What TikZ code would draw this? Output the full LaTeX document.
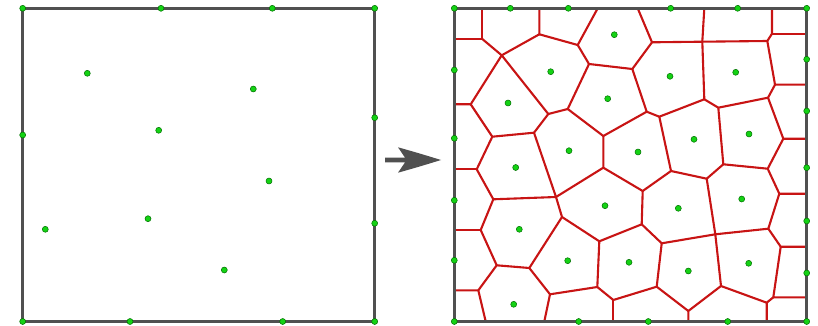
\documentclass[tikz,border=0pt]{standalone}
\begin{document}
\begin{tikzpicture}[x=1pt,y=-1pt,
  frame/.style={draw=framegray,line width=2.6pt,line join=miter},
  vor/.style={draw=vred,line width=2.1pt,line join=round,line cap=round},
  seed/.style={fill=seedgreen,draw=seeddark,line width=0.5pt},
  arrowshape/.style={fill=framegray,draw=none}]
\definecolor{framegray}{RGB}{80,80,80}
\definecolor{vred}{RGB}{200,20,20}
\definecolor{seedgreen}{RGB}{20,210,20}
\definecolor{seeddark}{RGB}{0,110,0}
\useasboundingbox (0,0) rectangle (818,326);
% ---------- left square ----------
\draw[frame] (22.7,8.3) rectangle (374.7,321.5);
\foreach \x/\y in {22.7/8.3,161/8.3,272.3/8.3,374.7/8.3,
  22.7/135,374.7/117.7,374.7/223.3,
  22.7/321.5,130/321.5,282.7/321.5,374.7/321.5,
  87.3/73.3,253.3/89,158.7/130.3,269/181,148/218.7,45.3/229.3,224.3/270}
  \filldraw[seed] (\x,\y) circle (3pt);
% ---------- arrow ----------
\fill[arrowshape] (385,157.6) -- (405,157.6) -- (398,147.3)
  .. controls (415,152) and (428,156) .. (441,160)
  .. controls (428,164) and (415,168) .. (398,172.7)
  -- (405,162.4) -- (385,162.4) -- cycle;
% ---------- right square: Voronoi ----------
\coordinate (tp) at (0,8.3);
\coordinate (bt) at (0,321.5);
\coordinate (lf) at (454.3,0);
\coordinate (rt) at (806.7,0);
\coordinate (t3) at (597.7,8.3);
\coordinate (t4) at (637.7,8.3);
\coordinate (t5) at (704.3,8.3);
\coordinate (b1) at (485.7,321.5);
\coordinate (b2) at (544.3,321.5);
\coordinate (a1) at (482.3,39);
\coordinate (a2) at (501.7,55.3);
\coordinate (a3) at (539.3,34.3);
\coordinate (a4) at (577.7,45);
\coordinate (a5) at (589,64);
\coordinate (a6) at (632.3,69);
\coordinate (a7) at (652,42.3);
\coordinate (a8) at (702.3,41.7);
\coordinate (a9) at (767.3,41);
\coordinate (a10) at (470.7,104.3);
\coordinate (a11) at (548.3,114);
\coordinate (a12) at (567.7,109);
\coordinate (a13) at (646.7,111.7);
\coordinate (a14) at (772,33.7);
\coordinate (a15) at (704.3,99.3);
\coordinate (a16) at (775,84.7);
\coordinate (a17) at (768,97.7);
\coordinate (a18) at (718.3,107.7);
\coordinate (a19) at (783.3,138.7);
\coordinate (a20) at (659.3,116.7);
\coordinate (a21) at (723.3,164.3);
\coordinate (a22) at (767.7,168.7);
\coordinate (a23) at (671,171);
\coordinate (a24) at (603.3,136);
\coordinate (a25) at (534,132.7);
\coordinate (a26) at (492.3,136.7);
\coordinate (a27) at (556,197);
\coordinate (a28) at (476.7,169.3);
\coordinate (a29) at (603.3,167.7);
\coordinate (a30) at (493.3,199.3);
\coordinate (a31) at (480.7,230);
\coordinate (a32) at (562,217);
\coordinate (a33) at (642.7,191);
\coordinate (a34) at (641.7,224.3);
\coordinate (a35) at (706.7,178.7);
\coordinate (a36) at (715.3,234.3);
\coordinate (a37) at (779.3,193.7);
\coordinate (a38) at (768.3,228.7);
\coordinate (a39) at (780.7,246.7);
\coordinate (a40) at (661.7,243.3);
\coordinate (a41) at (721,286);
\coordinate (a42) at (773.3,297.3);
\coordinate (a43) at (766.7,302.7);
\coordinate (a44) at (688.3,311);
\coordinate (a45) at (656.7,286.7);
\coordinate (a46) at (613.3,300);
\coordinate (a47) at (599.3,241.3);
\coordinate (a48) at (597.3,287);
\coordinate (a49) at (529.3,268);
\coordinate (a50) at (550,294.3);
\coordinate (a51) at (496.7,265.3);
\coordinate (a52) at (478.3,290.3);
\draw[vor] (a1|-tp) -- (a1) -- (lf|-a1);
\draw[vor] (a1) -- (a2) -- (a3) -- (a3|-tp);
\draw[vor] (a3) -- (a4) -- (t3);
\draw[vor] (a4) -- (a5) -- (a6) -- (a7) -- (t4);
\draw[vor] (a7) -- (a8) -- (t5);
\draw[vor] (a8) -- (a9) -- (a14) -- (a14|-tp);
\draw[vor] (a14) -- (rt|-a14);
\draw[vor] (a9) -- (a16) -- (rt|-a16);
\draw[vor] (a16) -- (a17) -- (a18) -- (a15) -- (a8);
\draw[vor] (a17) -- (a19) -- (rt|-a19);
\draw[vor] (a15) -- (a20) -- (a13) -- (a6);
\draw[vor] (a13) -- (a24) -- (a12) -- (a5);
\draw[vor] (a12) -- (a11) -- (a2) -- (a10) -- (lf|-a10);
\draw[vor] (a11) -- (a25) -- (a26) -- (a10);
\draw[vor] (a25) -- (a27) -- (a30) -- (a28) -- (a26);
\draw[vor] (a28) -- (lf|-a28);
\draw[vor] (a24) -- (a29) -- (a27);
\draw[vor] (a29) -- (a33) -- (a23) -- (a20);
\draw[vor] (a23) -- (a35) -- (a21) -- (a18);
\draw[vor] (a21) -- (a22) -- (a19);
\draw[vor] (a22) -- (a37) -- (rt|-a37);
\draw[vor] (a37) -- (a38) -- (a36) -- (a35);
\draw[vor] (a38) -- (a39) -- (rt|-a39);
\draw[vor] (a39) -- (a42) -- (rt|-a42);
\draw[vor] (a42) -- (a43) -- (a43|-bt);
\draw[vor] (a43) -- (a41) -- (a36);
\draw[vor] (a41) -- (a44) -- (a44|-bt);
\draw[vor] (a44) -- (a45) -- (a40) -- (a36);
\draw[vor] (a40) -- (a34) -- (a33);
\draw[vor] (a34) -- (a47) -- (a32) -- (a27);
\draw[vor] (a47) -- (a48) -- (a46) -- (a45);
\draw[vor] (a46) -- (a46|-bt);
\draw[vor] (a48) -- (a50) -- (b2);
\draw[vor] (a32) -- (a49) -- (a50);
\draw[vor] (a49) -- (a51) -- (a31) -- (a30);
\draw[vor] (a31) -- (lf|-a31);
\draw[vor] (a51) -- (a52) -- (lf|-a52);
\draw[vor] (a52) -- (b1);
\draw[frame] (454.3,8.3) rectangle (806.7,321.5);
\foreach \x/\y in {454.3/8.3,510.3/8.3,568.3/8.3,670.7/8.3,737.7/8.3,806.7/8.3,
  454.3/70,454.3/138.3,454.3/200.3,454.3/260.3,
  806.7/59.3,806.7/111,806.7/167.7,806.7/221,806.7/273,
  454.3/321.5,578.7/321.5,648.3/321.5,727.7/321.5,806.7/321.5,
  614.3/34.7,550.7/71.7,670/76.3,735.7/72.3,508/103,607.7/98.7,
  694/139.3,749/134,569/150.7,638/152,515.7/167.5,605/205.7,
  678.3/208.3,741.7/199,519.3/229.3,567.7/260.7,629/262.3,
  688.3/271,748.7/263.3,513.7/304.3}
  \filldraw[seed] (\x,\y) circle (3pt);
\end{tikzpicture}
\end{document}
